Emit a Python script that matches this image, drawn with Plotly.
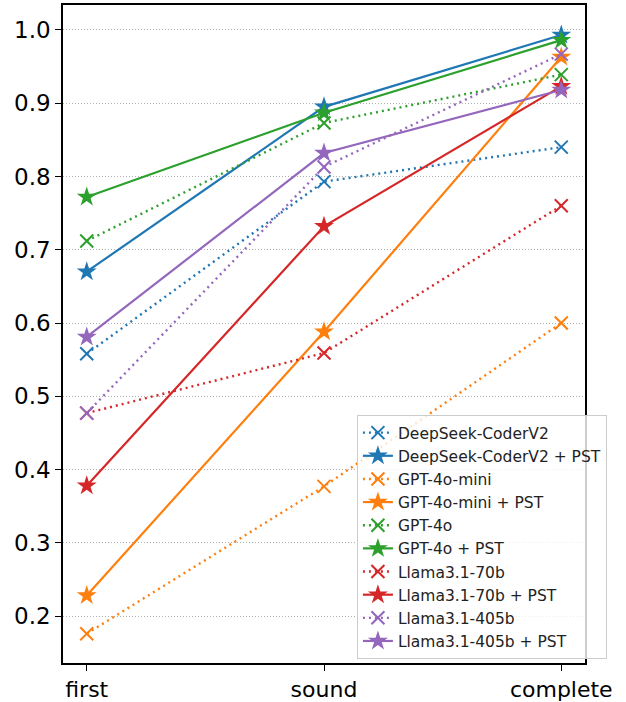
import plotly.graph_objects as go

stages = ["first", "sound", "complete"]

series_names = [
    "DeepSeek-CoderV2", "DeepSeek-CoderV2 + PST",
    "GPT-4o-mini", "GPT-4o-mini + PST",
    "GPT-4o", "GPT-4o + PST",
    "Llama3.1-70b", "Llama3.1-70b + PST",
    "Llama3.1-405b", "Llama3.1-405b + PST",
]

deepseek = [0.558, 0.793, 0.840]
deepseek_pst = [0.670, 0.895, 0.993]
gpt4o_mini = [0.176, 0.377, 0.600]
gpt4o_mini_pst = [0.228, 0.588, 0.963]
gpt4o = [0.712, 0.873, 0.939]
gpt4o_pst = [0.772, 0.887, 0.986]
llama70 = [0.477, 0.559, 0.760]
llama70_pst = [0.378, 0.732, 0.923]
llama405 = [0.477, 0.813, 0.967]
llama405_pst = [0.581, 0.832, 0.918]

values = [deepseek, deepseek_pst, gpt4o_mini, gpt4o_mini_pst, gpt4o, gpt4o_pst,
          llama70, llama70_pst, llama405, llama405_pst]
colors = ["#1f77b4", "#1f77b4", "#ff7f0e", "#ff7f0e", "#2ca02c", "#2ca02c",
          "#d62728", "#d62728", "#9467bd", "#9467bd"]

fig = go.Figure()
for i, (name, vals, col) in enumerate(zip(series_names, values, colors)):
    pst = name.endswith("PST")
    if pst:
        marker = dict(symbol="star", size=15, color=col, line=dict(width=0))
        line = dict(color=col, width=2.2)
    else:
        marker = dict(symbol="x-thin", size=13, color=col, line=dict(color=col, width=2.0))
        line = dict(color=col, width=2.4, dash="2px,4px")
    fig.add_trace(go.Scatter(
        x=[0, 1, 2], y=vals, name=name, mode="lines+markers",
        line=line, marker=marker, legendgroup=f"g{i}",
    ))

fig.update_layout(
    width=626, height=702,
    margin=dict(l=63, r=41, t=5, b=39),
    paper_bgcolor="white", plot_bgcolor="white",
    font=dict(family="DejaVu Sans", color="black"),
    showlegend=True,
    legend=dict(
        x=1.042, y=0.006, xanchor="right", yanchor="bottom",
        bgcolor="rgba(255,255,255,0.8)", bordercolor="#cccccc", borderwidth=1,
        font=dict(size=15.5, family="DejaVu Sans", color="#222"),
        tracegroupgap=0,
    ),
)
fig.update_xaxes(
    range=[-0.1, 2.1], tickmode="array", tickvals=[0, 1, 2], ticktext=stages,
    showgrid=False, zeroline=False, automargin=False,
    showline=True, linecolor="black", linewidth=1.5, mirror=True,
    ticks="outside", ticklen=6, tickwidth=1.2, tickcolor="black",
    tickfont=dict(size=22),
)
fig.update_yaxes(
    range=[0.136, 1.034], tickmode="array",
    tickvals=[0.2, 0.3, 0.4, 0.5, 0.6, 0.7, 0.8, 0.9, 1.0],
    ticktext=["0.2", "0.3", "0.4", "0.5", "0.6", "0.7", "0.8", "0.9", "1.0"],
    showgrid=True, gridcolor="#b0b0b0", griddash="1px,2px", gridwidth=1,
    zeroline=False, automargin=False,
    showline=True, linecolor="black", linewidth=1.5, mirror=True,
    ticks="outside", ticklen=6, tickwidth=1.2, tickcolor="black",
    tickfont=dict(size=23),
)

fig.write_html(
    "out.html",
    config={"displayModeBar": False},
    post_script="document.body.style.margin='0';document.body.style.overflow='hidden';",
)
